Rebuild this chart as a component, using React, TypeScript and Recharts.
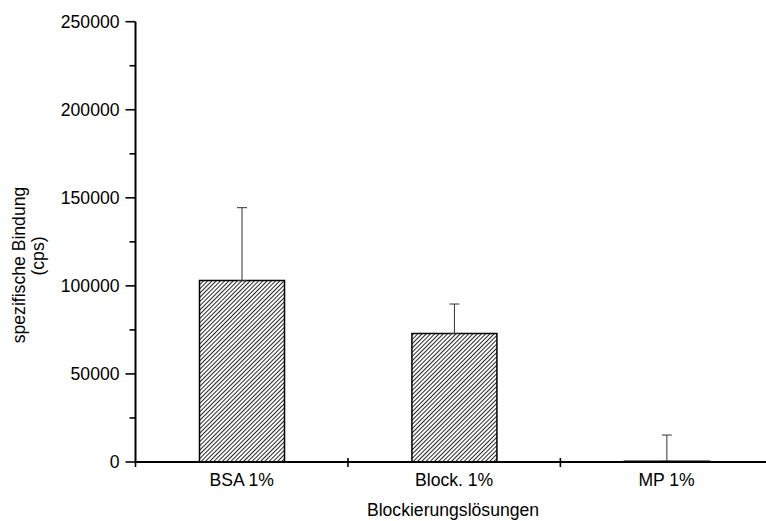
import React from 'react';
import { BarChart, Bar, XAxis, YAxis, ErrorBar } from 'recharts';

const categories = ['BSA 1%', 'Block. 1%', 'MP 1%'];
const values = [103000, 73000, 400];
const errorsUp = [41400, 16700, 14900];
const yTicks = [0, 25000, 50000, 75000, 100000, 125000, 150000, 175000, 200000, 225000, 250000];
const yMajorStep = 50000;
const yDomain = [0, 250000];
const xTitle = 'Blockierungslösungen';
const yTitleLines = ['spezifische Bindung', '(cps)'];

const data = categories.map((name, i) => ({
  name,
  value: values[i],
  err: [0, errorsUp[i]],
}));

const FONT = '"Liberation Sans", Arial, Helvetica, sans-serif';
const FS = 17.6;

const YTick = (props: any) => {
  const { x, y, payload } = props;
  const major = payload.value % yMajorStep === 0;
  return (
    <g>
      <line x1={x - (major ? 10 : 6)} x2={x} y1={y} y2={y} stroke="#000" strokeWidth={1.6} />
      {major && (
        <text
          x={x - 16}
          y={y}
          textAnchor="end"
          dominantBaseline="central"
          fontFamily={FONT}
          fontSize={FS}
          fill="#000"
        >
          {payload.value}
        </text>
      )}
    </g>
  );
};

const XTick = (props: any) => {
  const { x, y, payload, index } = props;
  const half = payload.offset || 106.25;
  return (
    <g>
      {index === 0 && (
        <line x1={x - half} x2={x - half} y1={y} y2={y + 5} stroke="#000" strokeWidth={1.6} />
      )}
      <line x1={x + half} x2={x + half} y1={y - 4} y2={y + 5} stroke="#000" strokeWidth={1.6} />
      <text
        x={x}
        y={y + 18}
        textAnchor="middle"
        dominantBaseline="central"
        fontFamily={FONT}
        fontSize={FS}
        fill="#000"
      >
        {payload.value}
      </text>
    </g>
  );
};

export default function App() {
  return (
    <div
      style={{
        position: 'absolute',
        left: 0,
        top: 0,
        width: 766,
        height: 521,
        overflow: 'hidden',
        background: '#fff',
      }}
    >
      <svg width={0} height={0} style={{ position: 'absolute' }}>
        <defs>
          <pattern
            id="hatch"
            patternUnits="userSpaceOnUse"
            width={3}
            height={3}
            patternTransform="rotate(45)"
          >
            <rect width={3} height={3} fill="#fff" />
            <line x1={0.5} y1={0} x2={0.5} y2={3} stroke="#000" strokeWidth={0.85} />
          </pattern>
        </defs>
      </svg>
      <BarChart
        width={810}
        height={521}
        data={data}
        margin={{ top: 21.7, right: 37.2, left: 0, bottom: 29 }}
      >
        <YAxis
          yAxisId="y"
          type="number"
          domain={yDomain}
          ticks={yTicks}
          interval={0}
          width={135.5}
          tickSize={0}
          tickMargin={0}
          tickLine={false}
          axisLine={{ stroke: '#000', strokeWidth: 2 }}
          tick={<YTick />}
        />
        <XAxis
          xAxisId="cat"
          dataKey="name"
          height={30}
          interval={0}
          tickSize={0}
          tickMargin={0}
          tickLine={false}
          axisLine={{ stroke: '#000', strokeWidth: 1.8 }}
          tick={<XTick />}
        />
        <Bar
          xAxisId="cat"
          yAxisId="y"
          dataKey="value"
          fill="url(#hatch)"
          stroke="#000"
          strokeWidth={1.5}
          barSize={85}
          isAnimationActive={false}
        >
          <ErrorBar dataKey="err" direction="y" width={5} stroke="#333" strokeWidth={1} />
        </Bar>
      </BarChart>
      <svg
        width={766}
        height={521}
        style={{ position: 'absolute', left: 0, top: 0, pointerEvents: 'none' }}
      >
        <text
          x={453}
          y={510}
          textAnchor="middle"
          dominantBaseline="central"
          fontFamily={FONT}
          fontSize={FS}
          fill="#000"
        >
          {xTitle}
        </text>
        <text
          transform="translate(19,265) rotate(-90)"
          textAnchor="middle"
          dominantBaseline="central"
          fontFamily={FONT}
          fontSize={FS}
          fill="#000"
        >
          {yTitleLines[0]}
        </text>
        <text
          transform="translate(38,256) rotate(-90)"
          textAnchor="middle"
          dominantBaseline="central"
          fontFamily={FONT}
          fontSize={FS}
          fill="#000"
        >
          {yTitleLines[1]}
        </text>
      </svg>
    </div>
  );
}
